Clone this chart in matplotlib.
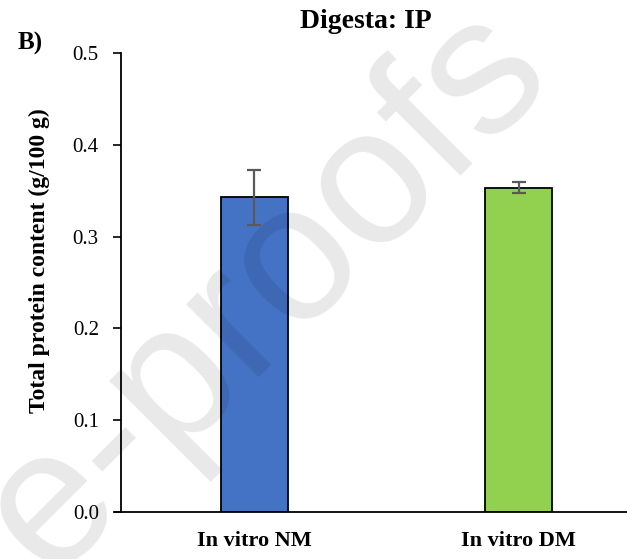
import matplotlib
matplotlib.use("Agg")
import matplotlib.pyplot as plt
import numpy as np

# data
categories = ["In vitro NM", "In vitro DM"]
protein = [0.343, 0.353]
protein_err = [0.030, 0.006]
bar_colors = ["#4472C4", "#92D050"]
yticks = [0.0, 0.1, 0.2, 0.3, 0.4, 0.5]

plt.rcParams["font.family"] = "Liberation Serif"

fig = plt.figure(figsize=(6.27, 5.59), dpi=100)
ax = fig.add_axes([121 / 627, 47 / 559, 1 - 121 / 627, 459 / 559])

x = np.arange(len(categories))
ax.bar(x, protein, width=0.253, color=bar_colors, edgecolor="black",
       linewidth=1.3, zorder=2)
ax.errorbar(x, protein, yerr=protein_err, fmt="none", ecolor="#595959",
            elinewidth=1.6, capsize=5, capthick=1.6, zorder=3)

ax.set_xlim(-0.503, 1.41)
ax.set_ylim(0, 0.5)
ax.set_yticks(yticks)
ax.set_yticklabels([f"{t:.1f}" for t in yticks], fontsize=15)
ax.set_xticks(x)
ax.set_xticklabels(categories, fontsize=16, fontweight="bold")
ax.tick_params(axis="x", length=0, pad=14)
ax.tick_params(axis="y", length=6, width=1.2, pad=10, direction="out")

for side in ["top", "right"]:
    ax.spines[side].set_visible(False)
ax.spines["left"].set_linewidth(1.3)
ax.spines["bottom"].set_linewidth(1.3)
ax.spines["bottom"].set_bounds(-0.525, 1.41)

ax.set_ylabel("Total protein content (g/100 g)", fontsize=17,
              fontweight="bold")
ax.yaxis.set_label_coords(-0.14, 0.547)

fig.text(366 / 627, 1 - 21 / 559, "Digesta: IP", ha="center", va="center",
         fontsize=20, fontweight="bold")
fig.text(30 / 627, 1 - 43 / 559, "B)", ha="center", va="center",
         fontsize=18, fontweight="bold")

# journal watermark, anchored at the end of its baseline
fig.text(556 / 627, 1 - 80 / 559, "Journal Pre-proofs", ha="right",
         va="baseline", rotation=45, rotation_mode="anchor", fontsize=140,
         family="Liberation Sans", color="black", alpha=0.09, zorder=10)

fig.savefig("out.png", dpi=100)
